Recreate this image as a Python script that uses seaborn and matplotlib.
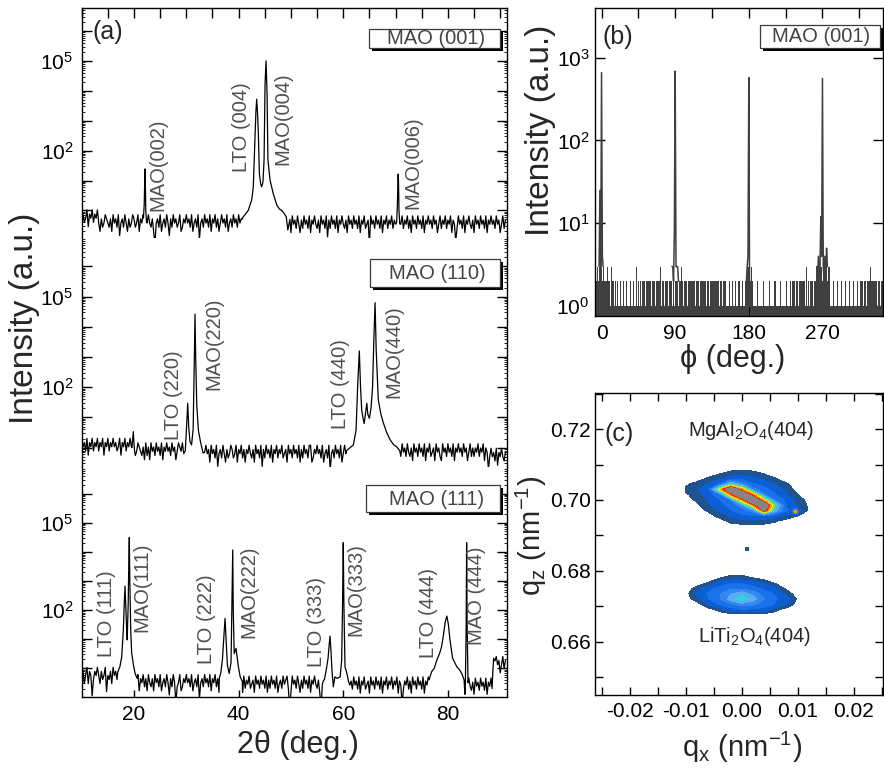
import numpy as np
import matplotlib
matplotlib.use("Agg")
import matplotlib.pyplot as plt
import matplotlib.ticker as mt
from matplotlib.patches import Rectangle
import seaborn as sns

# ---------------------------------------------------------------- data
# 2theta scans: baseline noise codes (digit d -> log offset (d-7)*0.14),
# piecewise baseline level (log10), and peak profiles (2theta, log10 I)
top_noise = ("7867958796879758679876859" "7869478697586798679587968"
             "7976852786957869748697867" "9568797869578693786978695"
             "8796857978695786978697859" "6879678597869786928697869"
             "5786978968597869758697869" "5879768597869486978695879"
             "7685978697869587967829786" "9786958796879687958796879"
             "6859786978695879786978579" "6879687958736978695879768"
             "5978697869587978697857968")
top_breaks = [13.0, 40.5]
top_levels = [-0.26, -0.42, -0.46]
top_peak_x = [[21.8, 21.95, 22.05, 22.1, 22.17, 22.25, 22.4],
              [40.6, 40.9, 41.4, 41.85, 42.2, 42.5, 42.8, 43.1, 43.3, 43.45, 43.6, 43.77,
               43.96, 44.2, 44.4, 44.65, 44.86, 45.05, 45.24, 45.43, 45.6, 46.0, 46.6,
               47.3, 47.8, 48.2, 48.7, 49.1, 49.4, 49.8],
              [70.2, 70.35, 70.45, 70.5, 70.57, 70.65, 70.8]]
top_peak_y = [[-0.25, 0.2, 1.1, 1.39, 0.9, 0.0, -0.4],
              [-0.3, -0.21, -0.1, 0.01, 0.2, 0.35, 0.79, 2.36, 3.3, 3.72, 3.3, 2.58,
               1.24, 0.9, 0.79, 0.95, 1.69, 4.25, 5.0, 3.92, 1.69, 1.02, 0.57,
               0.18, 0.05, 0.01, -0.1, -0.21, -0.65, -0.3],
              [-0.4, 0.2, 1.0, 1.22, 0.9, 0.0, -0.45]]
top_labels = ["MAO(002)", "LTO (004)", "MAO(004)", "MAO(006)"]
top_lab_x = [24.6, 40.6, 48.4, 73.4]
top_lab_y = [1.54, 2.8, 3.08, 1.61]

mid_noise = ("9786958796879687958796879" "7867958796879758679876859"
             "6859786978695879786978579" "8796857978695786978697859"
             "7869478697586798679587968" "5879768597869486978695879"
             "6879678597869786958697869" "9568797869578693786978695"
             "7976859786957869748697867" "5786978968597869758697869"
             "7685978697869587967859786" "5978697869587978697857968"
             "6879687958736978695879768")
mid_breaks = [20.0, 33.5, 70.8, 88.0]
mid_levels = [0.03, -0.12, -0.2, -0.15, -0.3]
mid_peak_x = [[19.6, 19.75, 19.87, 19.97, 20.1],
              [29.5, 29.8, 29.95, 30.1, 30.27, 30.45, 30.7, 31.0, 31.3, 31.5, 31.66, 31.8,
               32.0, 32.3, 32.7, 33.2, 33.5],
              [60.6, 61.3, 61.93, 62.45, 62.77, 63.07, 63.3, 63.53, 63.8, 64.0, 64.3, 64.5,
               64.7, 65.0, 65.3, 65.6, 65.85, 66.08, 66.3, 66.7, 67.2, 67.7, 68.3, 69.0,
               69.6, 70.2, 70.8]]
mid_peak_y = [[0.0, 0.3, 0.53, 0.2, -0.1],
              [-0.2, -0.1, 0.36, 0.9, 1.47, 0.7, 0.2, 0.09, 0.6, 2.6, 4.42, 2.9,
               1.4, 0.58, 0.2, -0.18, -0.15],
              [-0.1, 0.0, 0.09, 0.58, 2.13, 3.2, 2.0, 1.24, 0.95, 0.8, 1.2, 1.47,
               1.1, 0.97, 1.3, 2.0, 3.6, 4.8, 3.2, 1.58, 1.1, 0.8, 0.5, 0.25,
               0.1, 0.03, -0.1]]
mid_labels = ["LTO (220)", "MAO(220)", "LTO (440)", "MAO(440)"]
mid_lab_x = [27.5, 35.2, 59.4, 69.6]
mid_lab_y = [1.75, 3.43, 2.11, 3.18]

bot_noise = ("7857958726879758679376859" "7869478697586298679587968"
             "5976859786957869748697267" "9568797869578693786978695"
             "8796857978625786978697859" "6879678597869786958697869"
             "5786978961597869758697869" "5879768517869486978695879"
             "7685978697869587967859786" "9786958796879687958726879"
             "6859786978695879786978579" "6879687958736978695879768"
             "5978697869587978697857968")
bot_breaks = [16.8, 36.2, 56.3, 76.3, 89.0]
bot_levels = [-0.25, -0.5, -0.55, -0.58, -0.62, 0.12]
bot_peak_x = [[16.9, 17.3, 17.65, 17.96, 18.15, 18.28, 18.45, 18.6, 18.7, 18.9, 19.0, 19.1,
               19.2, 19.37, 19.55, 19.9, 20.2, 20.6],
              [36.3, 36.6, 36.9, 37.15, 37.4, 37.6, 37.85, 38.2, 38.55, 38.75, 38.87, 38.97,
               39.15, 39.5, 39.7, 39.95, 40.3, 40.7],
              [56.4, 56.85, 57.1, 57.3, 57.47, 57.65, 57.85, 58.1, 58.4, 58.8, 59.4, 59.7,
               59.88, 60.0, 60.12, 60.33, 60.7, 61.0],
              [76.4, 76.9, 77.4, 77.9, 78.4, 78.8, 79.1, 79.5, 79.8, 80.1, 80.4, 80.9,
               81.3, 81.7, 82.2, 82.65, 83.1],
              [83.35, 83.5, 83.58, 83.68, 83.85],
              [88.45, 88.6, 88.75, 89.0]]
bot_peak_y = [[-0.12, 0.05, 0.39, 1.31, 2.3, 2.82, 2.0, 1.3, 0.97, 2.3, 3.6, 4.49,
               3.0, 1.31, 0.52, 0.1, -0.18, -0.35],
              [-0.35, -0.15, 0.3, 1.0, 1.71, 1.0, 0.1, -0.18, 0.2, 2.5, 4.06, 2.0,
               0.5, 0.68, 0.4, 0.05, -0.3, -0.45],
              [-0.4, 0.05, 0.35, 0.8, 1.1, 0.6, -0.1, -0.64, -0.3, -0.35, -0.3, 0.28,
               2.4, 4.31, 2.2, 0.05, -0.18, -0.45],
              [-0.4, -0.12, 0.0, 0.28, 0.5, 0.74, 1.08, 1.6, 1.79, 1.5, 0.97, 0.34,
               0.2, 0.05, -0.05, -0.18, -0.4],
              [-0.45, 1.5, 4.31, 1.5, -0.5],
              [-0.7, -0.1, 0.34, 0.25]]
bot_labels = ["LTO (111)", "MAO(111)", "LTO (222)", "MAO(222)",
              "LTO (333)", "MAO(333)", "LTO (444)", "MAO (444)"]
bot_lab_x = [14.8, 21.5, 33.9, 41.9, 54.9, 62.4, 76.3, 85.5]
bot_lab_y = [1.88, 2.77, 1.69, 2.63, 1.6, 2.7, 1.88, 2.48]

# phi scan: counts per 1 degree (segments start angle + digit string) and peaks
phi_seg_start = [-8, 0, 18, 48, 117, 153, 177, 186, 231, 263, 280, 317]
phi_seg_counts = ["23232323", "323212231221321212", "121112111211121112111211131211",
                  "2122121222" "2121221212" "1222312121" "2212122221" "2122121221"
                  "3212212122" "122221212",
                  "2221222122" "2122212221" "2221222122" "212221",
                  "111211121112111211121112", "232302322",
                  "1111121111" "1121111112" "1111112111" "1112111111" "21111",
                  "2121221212" "1221212213" "2121212212" "12",
                  "32323232323232323",
                  "1112111121" "1112111121" "1112111121" "1112111",
                  "2221222122" "2132221222" "1222122"]
phi_peak_x = [[-3, -2, -1, 0, 1, 2],
              [86, 87, 88, 89, 90, 91, 92, 93, 94],
              [177, 178, 179, 180, 181],
              [263, 264, 265, 266, 267, 268, 269, 270, 271, 272, 273, 274, 275, 276]]
phi_peak_c = [[3, 25, 3, 660, 4, 3],
              [3, 3, 2, 8, 690, 3, 3, 3, 2],
              [2, 3, 4, 575, 1],
              [3, 2, 4, 2, 3, 12, 4, 560, 3, 2, 4, 2, 5, 3]]

# reciprocal space map: intensity level grids (0 = below threshold)
mao_qx = [-0.010, -0.008, -0.006, -0.004, -0.002, 0.000, 0.002, 0.004, 0.006, 0.008, 0.010, 0.012]
mao_qz = [0.6925, 0.694, 0.6955, 0.697, 0.6985, 0.700, 0.7015, 0.703, 0.7045, 0.706, 0.7075, 0.709]
mao_lv = [[0, 0, 0, 0, 0, 0, 0, 0, 0, 0, 0, 0],
          [0, 0, 0, 0, 0.8, 1.2, 1.3, 1.1, 0.6, 0, 0, 0],
          [0, 0, 0, 0.9, 1.6, 2.2, 2.4, 2.3, 1.9, 1.3, 0.5, 0],
          [0, 0, 0.7, 1.6, 2.4, 3.0, 4.0, 11, 5.0, 2.6, 2.0, 0.3],
          [0, 0.3, 1.3, 2.2, 2.8, 4.0, 9.0, 13, 6.0, 2.4, 1.3, 0.3],
          [0, 0.7, 1.6, 2.4, 3.4, 9.0, 13, 8.0, 3.4, 2.2, 1.2, 0],
          [0.3, 1.1, 2.0, 3.0, 9.0, 13, 9.0, 3.6, 2.6, 1.6, 0.5, 0],
          [0.7, 1.4, 2.2, 8.0, 13, 9.0, 3.8, 2.8, 2.0, 1.2, 0, 0],
          [0.3, 0.9, 1.6, 2.6, 6.0, 4.0, 2.6, 2.2, 1.4, 0.6, 0, 0],
          [0, 0, 0.7, 1.3, 2.0, 2.2, 1.8, 1.3, 0.6, 0, 0, 0],
          [0, 0, 0, 0.4, 0.9, 1.1, 0.9, 0.4, 0, 0, 0, 0],
          [0, 0, 0, 0, 0, 0, 0, 0, 0, 0, 0, 0]]
lto_qx = [-0.010, -0.008, -0.006, -0.004, -0.002, 0.000, 0.002, 0.004, 0.006, 0.008, 0.010]
lto_qz = [0.6675, 0.669, 0.6705, 0.672, 0.6735, 0.675, 0.6765, 0.678, 0.6795]
lto_lv = [[0, 0, 0, 0, 0, 0, 0, 0, 0, 0, 0],
          [0, 0, 0, 0.8, 2.0, 2.3, 2.3, 2.0, 0.8, 0, 0],
          [0, 0, 1.5, 2.6, 3.3, 4.0, 3.7, 3.0, 2.4, 1.4, 0],
          [0, 1.0, 2.4, 3.3, 5.0, 6.4, 5.0, 3.5, 2.6, 2.0, 0.3],
          [0, 1.8, 2.6, 3.4, 4.4, 5.2, 4.2, 3.0, 2.4, 1.0, 0],
          [0, 0.9, 2.2, 2.8, 3.3, 3.3, 2.8, 2.3, 1.6, 0.3, 0],
          [0, 0, 0.6, 2.0, 2.4, 2.4, 2.1, 1.4, 0.4, 0, 0],
          [0, 0, 0, 0.4, 0.9, 0.9, 0.5, 0, 0, 0, 0],
          [0, 0, 0, 0, 0, 0, 0, 0, 0, 0, 0]]
speck_qx = [0.0009]
speck_qz = [0.6862]
spot_qx = [0.0095]
spot_qz = [0.6969]
rsm_levels = [0.5, 1.5, 2.5, 3.5, 4.5, 5.5, 6.5, 7.5, 8.5, 9.5, 10.5, 20]
rsm_colors = ["#1f5490", "#0b5fd6", "#1a72ea", "#3388f0", "#5aaaf6", "#2fd4d4",
              "#7ede6a", "#f4e41c", "#ff9c00", "#ff2a00", "#858585"]

# ---------------------------------------------------------------- style
sns.set_theme(style="ticks")
plt.rcParams["font.family"] = ["Liberation Sans", "DejaVu Sans"]
plt.rcParams.update({
    "mathtext.fontset": "custom",
    "mathtext.rm": "Liberation Sans",
    "mathtext.it": "Liberation Sans:italic",
    "mathtext.bf": "Liberation Sans:bold",
    "axes.unicode_minus": False,
    "axes.linewidth": 1.0,
    "axes.edgecolor": "black",
    "xtick.color": "black", "ytick.color": "black",
    "xtick.direction": "in", "ytick.direction": "in",
})

W, H = 884, 769
fig = plt.figure(figsize=(W / 100, H / 100), dpi=100)


def fx(p):
    return p / W


def fy(p):
    return 1 - p / H


def add_ax(x0, y0, x1, y1):
    return fig.add_axes([fx(x0), fy(y1), (x1 - x0) / W, (y1 - y0) / H])


def build(noise, breaks, levels, peaks_x, peaks_y):
    codes = np.array([int(c) for c in noise])
    x = np.linspace(10, 91, len(codes))
    base = np.array(levels)[np.searchsorted(breaks, x)]
    y = base + (codes - 7) * 0.14
    keep = np.ones(len(x), bool)
    for p in peaks_x:
        keep &= ~((x >= p[0]) & (x <= p[-1]))
    xs = np.concatenate([x[keep]] + [np.asarray(p, float) for p in peaks_x])
    ys = np.concatenate([y[keep]] + [np.asarray(p, float) for p in peaks_y])
    o = np.argsort(xs)
    return xs[o], 10 ** ys[o]


def label_box(x0, y0, x1, y1, text, tx, ty):
    fig.patches.append(Rectangle((fx(x0 + 3), fy(y1 + 3)), (x1 - x0) / W, (y1 - y0) / H,
                                 transform=fig.transFigure, fc="black", ec="black",
                                 lw=0, zorder=5))
    fig.patches.append(Rectangle((fx(x0), fy(y1)), (x1 - x0) / W, (y1 - y0) / H,
                                 transform=fig.transFigure, fc="white", ec="#3a3a3a",
                                 lw=0.9, zorder=6))
    fig.text(fx(tx), fy(ty), text, ha="center", va="center", fontsize=14.5,
             color="#444444", zorder=7)


def decade_fmt(show):
    def f(v, pos):
        e = int(round(np.log10(v)))
        return r"$10^{%d}$" % e if e in show else ""
    return mt.FuncFormatter(f)


# ---------------------------------------------------------------- panel (a)
ax_px = [(8, 237.7), (237.7, 467.3), (467.3, 697)]
ylims = [(-0.91, 6.77), (-0.65, 6.95), (-0.99, 6.9)]
curves = [(top_noise, top_breaks, top_levels, top_peak_x, top_peak_y,
           top_labels, top_lab_x, top_lab_y),
          (mid_noise, mid_breaks, mid_levels, mid_peak_x, mid_peak_y,
           mid_labels, mid_lab_x, mid_lab_y),
          (bot_noise, bot_breaks, bot_levels, bot_peak_x, bot_peak_y,
           bot_labels, bot_lab_x, bot_lab_y)]
boxes = [((369, 29, 500, 48), "MAO (001)", (436, 38.7)),
         ((370, 259, 500, 287), "MAO (110)", (437, 274)),
         ((366, 485, 500, 512), "MAO (111)", (437, 499.5))]

for i, ((t, b), yl, cv, bx) in enumerate(zip(ax_px, ylims, curves, boxes)):
    ax = add_ax(81.7, t, 507, b)
    noise, brk, lev, pkx, pky, labs, lx, ly = cv
    xs, ys = build(noise, brk, lev, pkx, pky)
    sns.lineplot(x=xs, y=ys, ax=ax, color="black", linewidth=0.9,
                 estimator=None, sort=False, legend=False)
    ax.set_yscale("log")
    ax.set_ylim(10 ** yl[0], 10 ** yl[1])
    ax.set_xlim(10, 91.3)
    for s, xv, yv in zip(labs, lx, ly):
        ax.text(xv, 10 ** yv, s, rotation=90, ha="center", va="center",
                fontsize=14.5, color="#505050")
    ax.yaxis.set_major_locator(mt.LogLocator(base=10, numticks=30))
    ax.yaxis.set_major_formatter(decade_fmt((2, 5)))
    ax.yaxis.set_minor_locator(mt.LogLocator(base=10, subs=np.arange(2, 10), numticks=30))
    ax.yaxis.set_minor_formatter(mt.NullFormatter())
    ax.tick_params(axis="y", which="major", left=True, right=True, length=7,
                   width=1, labelsize=15, pad=6)
    ax.tick_params(axis="y", which="minor", left=True, right=True, length=2.5, width=0.6)
    ax.spines["top"].set_visible(i == 0)
    ax.spines["bottom"].set_visible(i == 2)
    if i == 0:
        ax.xaxis.set_major_locator(mt.MultipleLocator(5))
        ax.tick_params(axis="x", which="both", top=True, bottom=False, labeltop=False,
                       labelbottom=False, length=7, width=1)
    elif i == 1:
        ax.tick_params(axis="x", which="both", top=False, bottom=False,
                       labelbottom=False)
    else:
        ax.xaxis.set_major_locator(mt.MultipleLocator(20))
        ax.tick_params(axis="x", which="both", top=False, bottom=True, length=5,
                       width=1, labelsize=15, pad=6)
    ax.set_xlabel("")
    ax.set_ylabel("")
    label_box(*bx[0], bx[1], *bx[2])

fig.text(fx(92), fy(31.5), "(a)", ha="left", va="center", fontsize=18)
fig.text(fx(25), fy(318), "Intensity (a.u.)", rotation=90, ha="center", va="center",
         fontsize=24)
fig.text(fx(297.5), fy(745), "2\u03b8 (deg.)", ha="center", va="center", fontsize=22)

# ---------------------------------------------------------------- panel (b)
axb = add_ax(595, 8, 883, 316)
phi_vals, phi_cnt = [], []
for st, s in zip(phi_seg_start, phi_seg_counts):
    for k, ch in enumerate(s):
        phi_vals.append(st + k)
        phi_cnt.append(int(ch))
phi_vals = np.array(phi_vals, float)
phi_cnt = np.array(phi_cnt, float)
floor = 0.3
axb.bar(phi_vals, np.where(phi_cnt > 0, phi_cnt, floor) - floor, bottom=floor,
        width=1.4, color="#404040", linewidth=0, antialiased=False)
for px, pc in zip(phi_peak_x, phi_peak_c):
    sns.lineplot(x=px, y=pc, ax=axb, color="#404040", linewidth=1.1,
                 estimator=None, sort=False, legend=False)
axb.set_yscale("log")
axb.set_ylim(10 ** -0.12, 10 ** 3.6)
axb.set_xlim(-8, 344)
axb.xaxis.set_major_locator(mt.FixedLocator([0, 90, 180, 270]))
axb.xaxis.set_minor_locator(mt.MultipleLocator(45))
axb.yaxis.set_major_locator(mt.LogLocator(base=10, numticks=10))
axb.yaxis.set_major_formatter(decade_fmt((0, 1, 2, 3)))
axb.yaxis.set_minor_locator(mt.NullLocator())
axb.tick_params(which="both", top=True, right=True, length=7, width=1, labelsize=15)
axb.tick_params(axis="x", pad=6)
axb.tick_params(axis="y", pad=4)
axb.set_xlabel("")
axb.set_ylabel("")
label_box(760, 25, 880, 48, "MAO (001)", 821.5, 36.5)
fig.text(fx(603), fy(37), "(b)", ha="left", va="center", fontsize=18)
fig.text(fx(540), fy(130), "Intensity (a.u.)", rotation=90, ha="center", va="center",
         fontsize=24)
fig.text(fx(733), fy(359), "\u03d5 (deg.)", ha="center", va="center", fontsize=22)

# ---------------------------------------------------------------- panel (c)
axc = add_ax(595, 392.7, 883, 695)
axc.contourf(mao_qx, mao_qz, np.array(mao_lv), levels=rsm_levels, colors=rsm_colors)
axc.contourf(lto_qx, lto_qz, np.array(lto_lv), levels=rsm_levels, colors=rsm_colors)
sns.scatterplot(x=speck_qx, y=speck_qz, ax=axc, color="#1f5490", s=10, marker="s",
                linewidth=0, legend=False)
sns.scatterplot(x=spot_qx, y=spot_qz, ax=axc, color="#1a72ea", s=30, marker="o",
                linewidth=0, legend=False)
sns.scatterplot(x=spot_qx, y=spot_qz, ax=axc, color="#ff9c00", s=8, marker="o",
                linewidth=0, legend=False)
axc.set_xlim(-0.0262, 0.0252)
axc.set_ylim(0.6449, 0.7303)
axc.xaxis.set_major_locator(mt.MultipleLocator(0.01))
axc.xaxis.set_minor_locator(mt.MultipleLocator(0.005))
axc.xaxis.set_major_formatter(mt.FormatStrFormatter("%.2f"))
axc.yaxis.set_major_locator(mt.MultipleLocator(0.02))
axc.yaxis.set_minor_locator(mt.MultipleLocator(0.01))
axc.yaxis.set_major_formatter(mt.FormatStrFormatter("%.2f"))
axc.tick_params(which="both", top=True, right=True, length=6, width=1, labelsize=15)
axc.tick_params(axis="x", pad=5)
axc.tick_params(axis="y", pad=3)
axc.set_xlabel("")
axc.set_ylabel("")
axc.text(0.0017, 0.7195, "MgAl$_2$O$_4$(404)", ha="center", va="center", fontsize=14.5)
axc.text(0.0023, 0.6615, "LiTi$_2$O$_4$(404)", ha="center", va="center", fontsize=14.5)
fig.text(fx(605), fy(433.5), "(c)", ha="left", va="center", fontsize=18)
fig.text(fx(531), fy(536), r"q$_\mathrm{z}$ (nm$^{-1}$)", rotation=90, ha="center",
         va="center", fontsize=21)
fig.text(fx(742.5), fy(747), r"q$_\mathrm{x}$ (nm$^{-1}$)", ha="center", va="center",
         fontsize=21)

fig.savefig("out.png", dpi=100)
